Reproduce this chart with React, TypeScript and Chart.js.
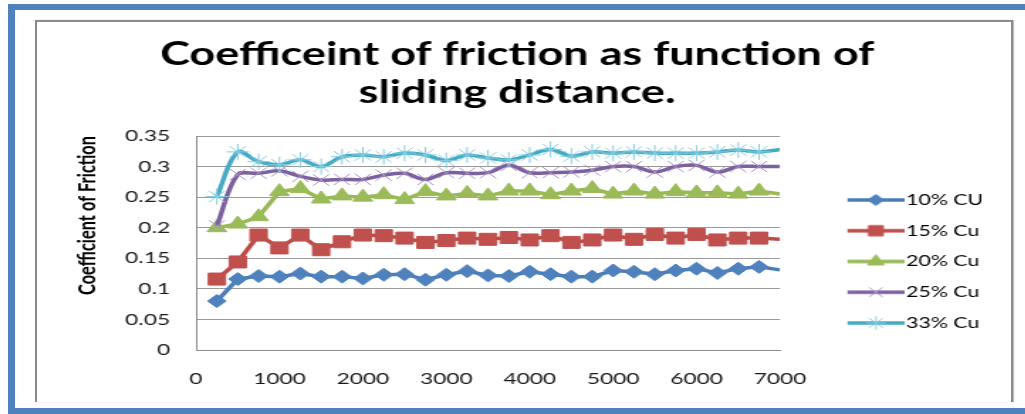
import React, { useEffect, useRef } from "react";
import { Chart, registerables } from "chart.js";

Chart.register(...registerables);

// ---------------- data ----------------
const distance = [250, 500, 750, 1000, 1250, 1500, 1750, 2000, 2250, 2500, 2750, 3000, 3250, 3500, 3750, 4000, 4250, 4500, 4750, 5000, 5250, 5500, 5750, 6000, 6250, 6500, 6750, 7000];
const cu10 = [0.080, 0.116, 0.121, 0.120, 0.125, 0.120, 0.120, 0.117, 0.123, 0.124, 0.115, 0.123, 0.129, 0.122, 0.121, 0.128, 0.124, 0.120, 0.120, 0.130, 0.128, 0.124, 0.130, 0.133, 0.126, 0.133, 0.136, 0.131];
const cu15 = [0.116, 0.144, 0.188, 0.167, 0.188, 0.164, 0.177, 0.188, 0.187, 0.183, 0.176, 0.179, 0.183, 0.181, 0.184, 0.180, 0.187, 0.176, 0.180, 0.188, 0.181, 0.189, 0.183, 0.189, 0.180, 0.183, 0.183, 0.181];
const cu20 = [0.200, 0.206, 0.218, 0.259, 0.264, 0.247, 0.252, 0.250, 0.254, 0.246, 0.259, 0.252, 0.256, 0.252, 0.260, 0.260, 0.254, 0.260, 0.264, 0.255, 0.260, 0.255, 0.259, 0.257, 0.257, 0.255, 0.260, 0.255];
const cu25 = [0.203, 0.287, 0.289, 0.293, 0.284, 0.278, 0.279, 0.279, 0.286, 0.289, 0.279, 0.290, 0.289, 0.290, 0.302, 0.290, 0.290, 0.291, 0.294, 0.300, 0.300, 0.291, 0.300, 0.302, 0.291, 0.300, 0.300, 0.300];
const cu33 = [0.251, 0.324, 0.308, 0.303, 0.311, 0.300, 0.316, 0.319, 0.316, 0.322, 0.319, 0.310, 0.319, 0.314, 0.311, 0.319, 0.328, 0.317, 0.324, 0.322, 0.324, 0.322, 0.322, 0.322, 0.324, 0.327, 0.324, 0.328];

const seriesNames = ["10% CU", "15% Cu", "20% Cu", "25% Cu", "33% Cu"];
const seriesValues = [cu10, cu15, cu20, cu25, cu33];

const titleLines = ["Coefficeint of friction as function of", "sliding distance."];
const yAxisTitle = "Coefficient of Friction";

const xTickValues = [0, 1000, 2000, 3000, 4000, 5000, 6000, 7000];
const xTickLabels = ["0", "1000", "2000", "3000", "4000", "5000", "6000", "7000"];
const yTickValues = [0, 0.05, 0.1, 0.15, 0.2, 0.25, 0.3, 0.35];
const yTickLabels = ["0", "0.05", "0.1", "0.15", "0.2", "0.25", "0.3", "0.35"];

// ---------------- styles ----------------
const seriesStyles = [
  { color: "#4A7EBB", marker: "rectRot", r: 6.5, fill: "#4F81BD", stroke: "#4F81BD", tension: 0 },
  { color: "#BE4B48", marker: "rect", r: 8.5, fill: "#C0504D", stroke: "#C0504D", tension: 0 },
  { color: "#98B954", marker: "triangle", r: 8, fill: "#9BBB59", stroke: "#9BBB59", tension: 0 },
  { color: "#7D60A0", marker: "crossRot", r: 8, fill: "rgba(0,0,0,0)", stroke: "#A995C6", tension: 0.35 },
  { color: "#46AAC5", marker: "star", r: 8, fill: "rgba(0,0,0,0)", stroke: "#86CDE0", tension: 0.35 },
];

const K = 1.42; // horizontal stretch of the reference
const CANVAS_W = 686;
const CANVAS_H = 380;
const PLOT_LEFT = 112;
const PLOT_RIGHT = 523.2;
const XAXIS_H = 52;
const FONT = "Lato";
const LEGEND_FONT = 15;
const LEGEND_PAD = 15.75;
const LEGEND_BOX = 65.55;
const LEGEND_EXTRA = 10; // Chart.js adds 10px to vertical legends
const SAMPLE_W = 78;
const SAMPLE_H = 22;

function drawMarker(g: CanvasRenderingContext2D, style: string, x: number, y: number, r: number, fill: string, stroke: string) {
  g.fillStyle = fill;
  g.strokeStyle = stroke;
  g.lineWidth = 1;
  g.beginPath();
  if (style === "rectRot") {
    g.moveTo(x, y - r); g.lineTo(x + r, y); g.lineTo(x, y + r); g.lineTo(x - r, y); g.closePath();
    g.fill(); g.stroke();
  } else if (style === "rect") {
    const s = r * Math.SQRT1_2;
    g.rect(x - s, y - s, 2 * s, 2 * s); g.fill(); g.stroke();
  } else if (style === "triangle") {
    g.moveTo(x, y - r); g.lineTo(x + 0.866 * r, y + 0.5 * r); g.lineTo(x - 0.866 * r, y + 0.5 * r); g.closePath();
    g.fill(); g.stroke();
  } else if (style === "crossRot" || style === "star") {
    const d = r * Math.SQRT1_2;
    g.moveTo(x - d, y - d); g.lineTo(x + d, y + d);
    g.moveTo(x - d, y + d); g.lineTo(x + d, y - d);
    if (style === "star") {
      g.moveTo(x, y - r); g.lineTo(x, y + r);
      g.moveTo(x - r, y); g.lineTo(x + r, y);
    }
    g.stroke();
  }
}

function makeSample(i: number) {
  const st = seriesStyles[i];
  const c = document.createElement("canvas");
  c.width = SAMPLE_W;
  c.height = SAMPLE_H;
  const g = c.getContext("2d")!;
  const cy = SAMPLE_H / 2;
  g.strokeStyle = st.color;
  g.lineWidth = 3.5;
  g.beginPath();
  g.moveTo(38, cy);
  g.lineTo(SAMPLE_W, cy);
  g.stroke();
  drawMarker(g, st.marker, 58, cy, st.r * 0.85, st.fill, st.stroke);
  return c;
}

export default function App() {
  const ref = useRef<HTMLCanvasElement>(null);

  useEffect(() => {
    const canvas = ref.current;
    if (!canvas) return;
    const m = document.createElement("canvas").getContext("2d")!;
    m.font = `${LEGEND_FONT}px ${FONT}`;
    const maxText = Math.max(...seriesNames.map((n) => m.measureText(n).width));
    const legendWidth = LEGEND_PAD + LEGEND_BOX + LEGEND_FONT / 2 + maxText + LEGEND_EXTRA;
    const padRight = CANVAS_W - PLOT_RIGHT - legendWidth;
    const samples = seriesNames.map((_, i) => makeSample(i));

    const datasets = seriesNames.map((name, i) => {
      const st = seriesStyles[i];
      return {
        label: name,
        data: distance.map((x, j) => ({ x, y: seriesValues[i][j] })),
        borderColor: st.color,
        backgroundColor: st.fill,
        borderWidth: 3.5,
        tension: st.tension,
        pointStyle: st.marker,
        pointRadius: (ctx: any) => (ctx.raw && ctx.raw.x >= 7000 ? 0 : st.r),
        pointHoverRadius: st.r,
        pointBackgroundColor: st.fill,
        pointBorderColor: st.stroke,
        pointBorderWidth: 1,
        order: seriesNames.length - i,
        fill: false,
      };
    });

    const tickFont = { family: FONT, size: 16 };

    const chart = new Chart(canvas, {
      type: "line",
      data: { datasets } as any,
      options: {
        animation: false,
        responsive: false,
        devicePixelRatio: 1,
        layout: { padding: { left: 0, right: padRight, top: 0, bottom: 0 } },
        plugins: {
          title: {
            display: true,
            text: titleLines,
            color: "#000",
            font: { family: FONT, weight: "bold", size: 31.7, lineHeight: 38 / 31.7 },
            padding: { top: 13.5, bottom: 24.5 },
          },
          legend: {
            position: "right",
            align: "start",
            title: { display: true, text: "", font: { size: 10, lineHeight: 1 }, padding: { top: 144.75, bottom: 0 } },
            labels: {
              usePointStyle: true,
              pointStyleWidth: LEGEND_BOX,
              padding: LEGEND_PAD,
              color: "#000",
              font: { family: FONT, size: LEGEND_FONT },
              generateLabels: (ch: any) =>
                ch.data.datasets.map((ds: any, i: number) => ({
                  text: ds.label,
                  pointStyle: samples[i],
                  datasetIndex: i,
                  fillStyle: "rgba(0,0,0,0)",
                  strokeStyle: "rgba(0,0,0,0)",
                  lineWidth: 0,
                  hidden: false,
                  fontColor: "#000",
                })),
            },
          },
          tooltip: { enabled: false },
        },
        scales: {
          x: {
            type: "linear",
            min: 0,
            max: 7000,
            afterBuildTicks: (s: any) => {
              s.ticks = xTickValues.map((v) => ({ value: v }));
            },
            afterFit: (s: any) => {
              s.height = XAXIS_H;
            },
            ticks: {
              padding: 19.4,
              color: "#1a1a1a",
              font: tickFont,
              maxRotation: 0,
              autoSkip: false,
              callback: (_v: any, i: number) => xTickLabels[i],
            },
            grid: { display: false, drawTicks: false },
            border: { display: true, color: "#8c8c8c", width: 1 },
          },
          y: {
            type: "linear",
            min: 0,
            max: 0.35,
            afterBuildTicks: (s: any) => {
              s.ticks = yTickValues.map((v) => ({ value: v }));
            },
            afterFit: (s: any) => {
              s.width = PLOT_LEFT;
            },
            ticks: {
              padding: 18.3,
              color: "#1a1a1a",
              font: tickFont,
              autoSkip: false,
              callback: (_v: any, i: number) => yTickLabels[i],
            },
            grid: { color: "#9a9a9a", lineWidth: 1, drawTicks: false },
            border: { display: true, color: "#8c8c8c", width: 1 },
            title: {
              display: true,
              text: yAxisTitle,
              align: "end",
              color: "#000",
              font: { family: FONT, weight: "bold", size: 16.4, lineHeight: 1.2 },
              padding: { top: 26.1, bottom: 0 },
            },
          },
        },
      } as any,
    });
    return () => chart.destroy();
  }, []);

  return (
    <div style={{ position: "fixed", left: 0, top: 0, width: 1025, height: 414, background: "#fff", overflow: "hidden" }}>
      <div
        style={{
          position: "absolute",
          left: 8,
          top: 4,
          right: 0,
          bottom: 0,
          boxSizing: "border-box",
          borderTop: "6px solid #4F81BD",
          borderLeft: "7px solid #4F81BD",
          borderBottom: "6px solid #4F81BD",
        }}
      />
      <div
        style={{
          position: "absolute",
          left: 35,
          top: 20,
          width: 978,
          height: 382,
          boxSizing: "border-box",
          borderTop: "2px solid #8b8b8b",
          borderLeft: "2px solid #8b8b8b",
          borderRight: "2px solid #8b8b8b",
          boxShadow: "1px 0 1px rgba(0,0,0,0.25)",
        }}
      />
      <div
        style={{
          position: "absolute",
          left: 37,
          top: 22,
          width: CANVAS_W,
          height: CANVAS_H,
          transform: `scaleX(${K})`,
          transformOrigin: "0 0",
        }}
      >
        <canvas ref={ref} width={CANVAS_W} height={CANVAS_H} style={{ width: CANVAS_W, height: CANVAS_H, display: "block" }} />
      </div>
    </div>
  );
}
